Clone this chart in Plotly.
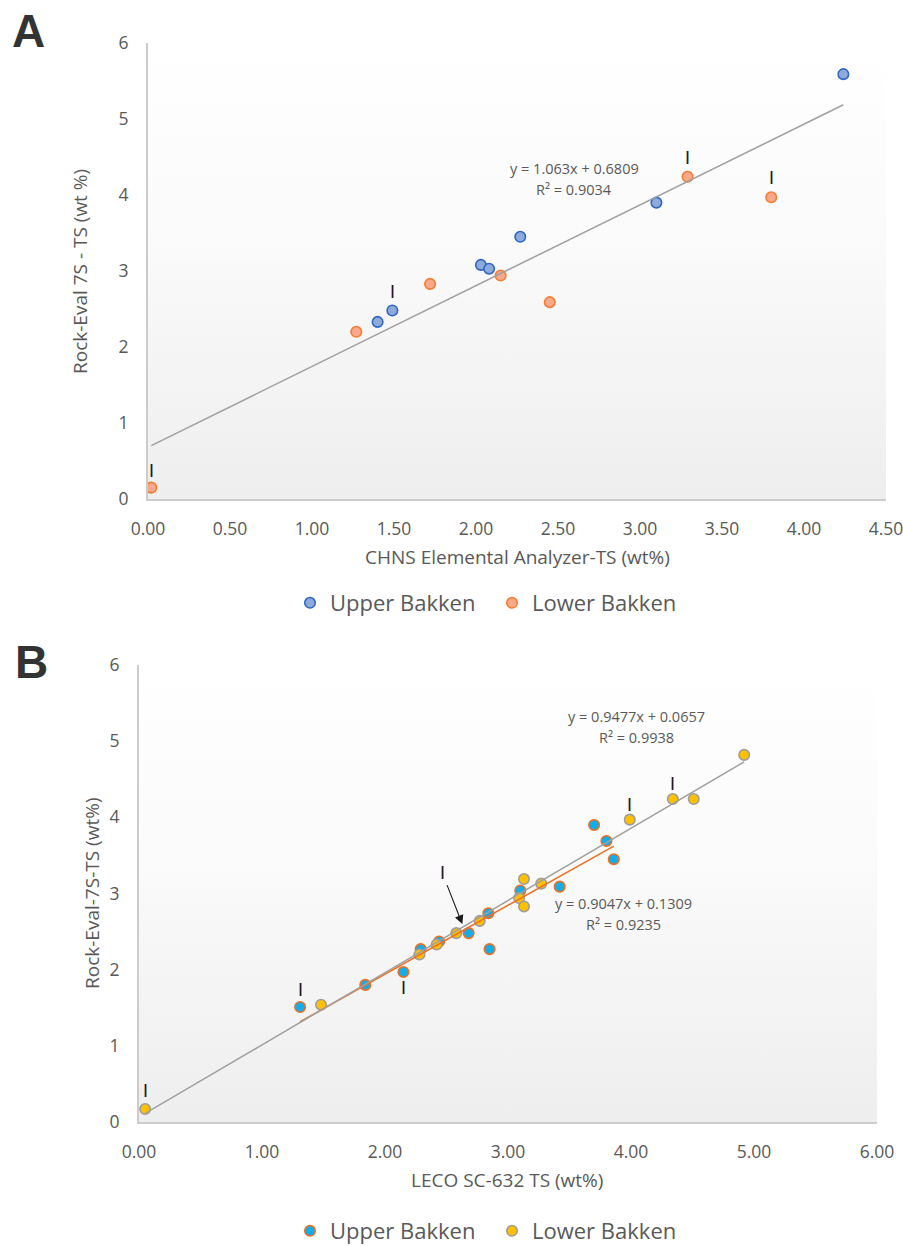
import plotly.graph_objects as go

# ---------------- data ----------------
# Panel A: CHNS Elemental Analyzer TS vs Rock-Eval 7S TS
A_upper_x = [1.40, 1.49, 2.03, 2.08, 2.27, 3.10, 4.24]
A_upper_y = [2.33, 2.48, 3.08, 3.03, 3.45, 3.90, 5.59]
A_lower_x = [0.02, 1.27, 1.72, 2.15, 2.45, 3.29, 3.80]
A_lower_y = [0.15, 2.20, 2.83, 2.94, 2.59, 4.24, 3.97]
A_fit = {"slope": 1.063, "intercept": 0.6809, "r2": 0.9034}
A_xticks = [0, 0.5, 1.0, 1.5, 2.0, 2.5, 3.0, 3.5, 4.0, 4.5]
A_yticks = [0, 1, 2, 3, 4, 5, 6]
A_upper_marked = [1]
A_lower_marked = [0, 5, 6]

# Panel B: LECO SC-632 TS vs Rock-Eval 7S TS
B_upper_x = [1.31, 1.84, 2.15, 2.29, 2.44, 2.68, 2.85, 2.84, 3.10, 3.42, 3.70, 3.80, 3.86]
B_upper_y = [1.51, 1.80, 1.97, 2.27, 2.37, 2.48, 2.27, 2.74, 3.04, 3.09, 3.90, 3.69, 3.45]
B_lower_x = [0.05, 1.48, 2.28, 2.42, 2.58, 2.77, 3.09, 3.13, 3.13, 3.27, 3.99, 4.34, 4.51, 4.92]
B_lower_y = [0.17, 1.54, 2.20, 2.33, 2.48, 2.64, 2.94, 3.19, 2.83, 3.13, 3.97, 4.24, 4.24, 4.82]
B_fit_all = {"slope": 0.9477, "intercept": 0.0657, "r2": 0.9938}
B_fit_upper = {"slope": 0.9047, "intercept": 0.1309, "r2": 0.9235}
B_xticks = [0, 1, 2, 3, 4, 5, 6]
B_yticks = [0, 1, 2, 3, 4, 5, 6]
B_upper_marked_above = [0]
B_upper_marked_below = [2]
B_lower_marked = [0, 10, 11]
B_lower_arrow = 4

A_XR = [0, 4.5]
A_YR = [0, 6]
B_XR = [0, 6]
B_YR = [0, 6]

W, H = 903, 1246
FONT = "Open Sans"
GREY_TXT = "#595959"


def px_x(p):
    return p / W


def px_y(p):
    return 1 - p / H


fig = go.Figure()


def background(xr, yr, xa, ya):
    fig.add_trace(go.Scatter(
        x=[xr[0], xr[1], xr[1], xr[0], xr[0]],
        y=[yr[0], yr[0], yr[1], yr[1], yr[0]],
        mode="none", fill="toself",
        fillgradient=dict(type="vertical",
                          colorscale=[[0, "#eeeeee"], [0.55, "#fafafa"], [1, "#ffffff"]]),
        hoverinfo="skip", showlegend=False, xaxis=xa, yaxis=ya))


def fitline(fit, xs, color, xa, ya):
    x0, x1 = min(xs), max(xs)
    fig.add_trace(go.Scatter(
        x=[x0, x1], y=[fit["slope"] * x0 + fit["intercept"], fit["slope"] * x1 + fit["intercept"]],
        mode="lines", line=dict(color=color, width=1.5),
        hoverinfo="skip", showlegend=False, xaxis=xa, yaxis=ya))


# ---------- Panel A ----------
background(A_XR, A_YR, "x", "y")
fig.add_trace(go.Scatter(
    x=A_upper_x, y=A_upper_y, mode="markers", name="Upper Bakken",
    marker=dict(size=10.5, color="#8eaadb", line=dict(color="#2f67c5", width=1.6)),
    xaxis="x", yaxis="y", legend="legend"))
fig.add_trace(go.Scatter(
    x=A_lower_x, y=A_lower_y, mode="markers", name="Lower Bakken",
    marker=dict(size=10.5, color="#f9a98b", line=dict(color="#f77b32", width=1.6)),
    xaxis="x", yaxis="y", legend="legend"))
fitline(A_fit, A_upper_x + A_lower_x, "#a0a0a0", "x", "y")

# ---------- Panel B ----------
background(B_XR, B_YR, "x2", "y2")
fig.add_trace(go.Scatter(
    x=B_upper_x, y=B_upper_y, mode="markers", name="Upper Bakken",
    marker=dict(size=10.5, color="#12aeea", line=dict(color="#f26d1e", width=1.6)),
    xaxis="x2", yaxis="y2", legend="legend2"))
fig.add_trace(go.Scatter(
    x=B_lower_x, y=B_lower_y, mode="markers", name="Lower Bakken",
    marker=dict(size=10.5, color="#ffc000", line=dict(color="#9e9e9e", width=1.6)),
    xaxis="x2", yaxis="y2", legend="legend2"))
fitline(B_fit_upper, B_upper_x, "#f26d1e", "x2", "y2")
fitline(B_fit_all, B_upper_x + B_lower_x, "#a0a0a0", "x2", "y2")

# ---------- annotations ----------
ann = []


def txt(text, x, y, size, color=GREY_TXT, angle=0, family=FONT, bold=False):
    ann.append(dict(text=("<b>%s</b>" % text) if bold else text,
                    x=px_x(x), y=px_y(y), xref="paper", yref="paper",
                    xanchor="center", yanchor="middle", showarrow=False, textangle=angle,
                    font=dict(family=family, size=size, color=color)))


def mark(x, y, xa, ya, shift):
    ann.append(dict(text="I", x=x, y=y, xref=xa, yref=ya, showarrow=False,
                    yshift=shift, xanchor="center", yanchor="middle",
                    font=dict(family="Liberation Sans", size=18, color="#1a1a1a")))


# panel letters
txt("A", 28, 31, 46, color="#333333", family="Liberation Sans", bold=True)
txt("B", 31, 662, 46, color="#333333", family="Liberation Sans", bold=True)

# axis titles
txt("CHNS Elemental Analyzer-TS (wt%)", 517, 557, 19)
txt("Rock-Eval 7S - TS (wt %)", 80, 272, 19, angle=-90)
txt("LECO SC-632 TS (wt%)", 507, 1180, 19)
txt("Rock-Eval-7S-TS (wt%)", 92, 893, 19, angle=-90)

# equations
txt("y = %.3fx + %.4f" % (A_fit["slope"], A_fit["intercept"]), 574, 168, 14.5)
txt("R² = %.4f" % A_fit["r2"], 574, 189, 14.5)
txt("y = %.4fx + %.4f" % (B_fit_all["slope"], B_fit_all["intercept"]), 636, 716, 14.5)
txt("R² = %.4f" % B_fit_all["r2"], 636, 737, 14.5)
txt("y = %.4fx + %.4f" % (B_fit_upper["slope"], B_fit_upper["intercept"]), 623, 903, 14.5)
txt("R² = %.4f" % B_fit_upper["r2"], 623, 924, 14.5)

# sample marks
for i in A_upper_marked:
    mark(A_upper_x[i], A_upper_y[i], "x", "y", 19)
for i in A_lower_marked:
    mark(A_lower_x[i], A_lower_y[i], "x", "y", 17 if i == 0 else 19)
for i in B_upper_marked_above:
    mark(B_upper_x[i], B_upper_y[i], "x2", "y2", 17)
for i in B_upper_marked_below:
    mark(B_upper_x[i], B_upper_y[i], "x2", "y2", -16)
for i in B_lower_marked:
    mark(B_lower_x[i], B_lower_y[i], "x2", "y2", 18 if i == 0 else 15)
i = B_lower_arrow
ann.append(dict(text="I", x=B_lower_x[i], y=B_lower_y[i], xref="x2", yref="y2",
                xshift=6, yshift=9, showarrow=True, ax=-20, ay=-51,
                arrowhead=2, arrowsize=1.6, arrowwidth=1.1, arrowcolor="#1a1a1a",
                standoff=0, startstandoff=2,
                font=dict(family="Liberation Sans", size=18, color="#1a1a1a")))

axis_common = dict(showgrid=False, zeroline=False, showline=True, linecolor="#cccccc",
                   linewidth=2, ticks="", tickfont=dict(family=FONT, size=17.5, color=GREY_TXT),
                   fixedrange=True, automargin=False, ticklabeloverflow="allow")

fig.update_layout(
    width=W, height=H, margin=dict(l=0, r=0, t=0, b=0, autoexpand=False),
    paper_bgcolor="white", plot_bgcolor="white",
    font=dict(family=FONT, color=GREY_TXT),
    xaxis=dict(domain=[px_x(148), px_x(886)], range=A_XR, anchor="y",
               tickvals=A_xticks, tickformat=".2f", ticklabelstandoff=13, **axis_common),
    yaxis=dict(domain=[px_y(499), px_y(43)], range=A_YR, anchor="x",
               tickvals=A_yticks, ticklabelstandoff=14, **axis_common),
    xaxis2=dict(domain=[px_x(139), px_x(877)], range=B_XR, anchor="y2",
                tickvals=B_xticks, tickformat=".2f", ticklabelstandoff=13, **axis_common),
    yaxis2=dict(domain=[px_y(1122), px_y(665)], range=B_YR, anchor="x2",
                tickvals=B_yticks, ticklabelstandoff=14, **axis_common),
    legend=dict(orientation="h", x=px_x(290), y=px_y(603), xanchor="left", yanchor="middle",
                font=dict(family=FONT, size=22, color=GREY_TXT), bgcolor="rgba(0,0,0,0)",
                entrywidth=157, entrywidthmode="pixels"),
    legend2=dict(orientation="h", x=px_x(290), y=px_y(1231), xanchor="left", yanchor="middle",
                 font=dict(family=FONT, size=22, color=GREY_TXT), bgcolor="rgba(0,0,0,0)",
                 entrywidth=157, entrywidthmode="pixels"),
    annotations=ann,
    showlegend=True,
)

fig.write_html("out.html")
